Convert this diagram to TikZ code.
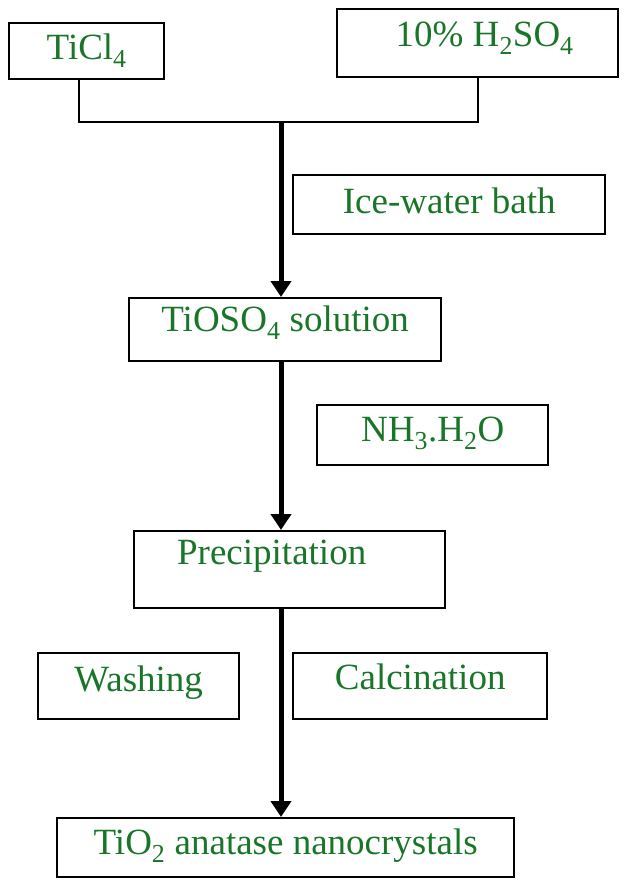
\documentclass[tikz,border=0pt]{standalone}
\usepackage{fontspec}
\setmainfont{Liberation Serif}
\usetikzlibrary{arrows.meta,positioning}

\definecolor{labelgreen}{RGB}{25,118,40}

\begin{document}
\begin{tikzpicture}[x=1pt, y=-1pt]
		\tikzstyle{Box}		= [draw, line width=2.4pt, anchor=north west, inner sep=0pt, text=labelgreen, font=\fontsize{37pt}{44pt}\selectfont]
		\tikzstyle{Link}	= [line width=2.4pt]
		\tikzstyle{Flow}	= [line width=5pt, -{Triangle[length=16pt,width=20pt]}]

		\useasboundingbox (0,0) rectangle (627,883);

		\node (ticl)   at (8,22)    [Box][minimum width=155pt, minimum height=56pt, text height=36pt, text depth=20pt] {TiCl\textsubscript{4}};
		\node (hso)    at (336,8)   [Box][minimum width=281pt, minimum height=68pt, text height=37pt, text depth=31pt] {\hspace*{14pt}10\% H\textsubscript{2}SO\textsubscript{4}};
		\node (ice)    at (292,174) [Box][minimum width=312pt, minimum height=59pt, text height=38pt, text depth=21pt] {Ice-water bath};
		\node (tioso)  at (128,297) [Box][minimum width=312pt, minimum height=63pt, text height=33pt, text depth=30pt] {TiOSO\textsubscript{4} solution};
		\node (nh)     at (316,404) [Box][minimum width=231pt, minimum height=60pt, text height=36pt, text depth=24pt] {NH\textsubscript{3}.H\textsubscript{2}O};
		\node (precip) at (133,530) [Box][minimum width=311pt, minimum height=77pt, text height=33pt, text depth=44pt] {\hspace*{-36pt}Precipitation};
		\node (wash)   at (37,652)  [Box][minimum width=201pt, minimum height=66pt, text height=38pt, text depth=28pt] {Washing};
		\node (calc)   at (292,652) [Box][minimum width=254pt, minimum height=66pt, text height=36pt, text depth=30pt] {Calcination};
		\node (tio)    at (56,817)  [Box][minimum width=457pt, minimum height=59pt, text height=36pt, text depth=23pt] {TiO\textsubscript{2} anatase nanocrystals};

		\coordinate (join) at (281,122);

		\draw[Link] ([xshift=-8pt]ticl.south) |- (join) -| (hso.south);
		\draw[Flow] (join) -- (join |- tioso.north);
		\draw[Flow] (join |- tioso.south) -- (join |- precip.north);
		\draw[Flow] (join |- precip.south) -- (join |- tio.north);
	\end{tikzpicture}
\end{document}
